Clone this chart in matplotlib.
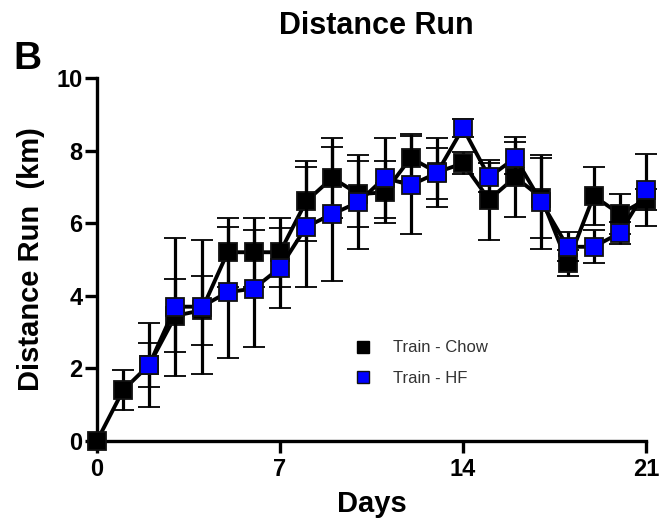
import numpy as np
import matplotlib
matplotlib.use("Agg")
import matplotlib.pyplot as plt
from matplotlib.lines import Line2D

plt.rcParams['font.family'] = ['Liberation Sans', 'DejaVu Sans']

# daily running distance (km), mean and error
days = np.arange(0, 22)
chow = [0, 1.4, 2.1, 3.45, 3.6, 5.2, 5.2, 5.2, 6.6, 7.25, 6.8, 6.85,
        7.8, 7.4, 7.65, 6.65, 7.27, 6.7, 4.9, 6.75, 6.25, 6.65]
chow_err = [0, 0.55, 0.6, 1.0, 0.95, 0.95, 0.95, 0.95, 1.1, 1.1, 0.9, 0.85,
            0.65, 0.95, 0.3, 1.1, 1.1, 1.1, 0.35, 0.8, 0.55, 0.3]
hf = [np.nan, np.nan, 2.1, 3.7, 3.7, 4.1, 4.2, 4.77, 5.9, 6.25, 6.58, 7.25,
      7.05, 7.38, 8.62, 7.27, 7.8, 6.58, 5.35, 5.35, 5.73, 6.91]
hf_err = [np.nan, np.nan, 1.15, 1.9, 1.85, 1.8, 1.6, 1.1, 1.65, 1.85, 1.3, 1.1,
          1.35, 0.7, 0.25, 0.4, 0.45, 1.3, 0.4, 0.45, 0.3, 1.0]

xticks = [0, 7, 14, 21]
yticks = [0, 2, 4, 6, 8, 10]

fig = plt.figure(figsize=(6.61, 5.27), dpi=100)
ax = fig.add_axes([0.1467, 0.1632, 0.8306, 0.6888])

def draw(y, err, face, z):
    cont = ax.errorbar(days, y, yerr=err, fmt='s-', color='black', lw=2.8,
                       ms=12.5, mfc=face, mec='#111111', mew=1.3,
                       elinewidth=2.3, capsize=8, capthick=2.3, zorder=z)
    line, caps, bars = cont.lines
    line.set_clip_on(False)
    for a in list(caps) + list(bars):
        a.set_clip_on(False)

draw(chow, chow_err, 'black', 3)
draw(hf, hf_err, '#0000ff', 4)

ax.set_xlim(0, 21)
ax.set_ylim(0, 10)
ax.set_xticks(xticks)
ax.set_yticks(yticks)
ax.spines['top'].set_visible(False)
ax.spines['right'].set_visible(False)
for s in ('left', 'bottom'):
    ax.spines[s].set_linewidth(2.4)
ax.tick_params(axis='both', length=8.5, width=2.4, labelsize=17)
ax.tick_params(axis='x', pad=4)
ax.tick_params(axis='y', pad=2)
for lab in ax.get_xticklabels() + ax.get_yticklabels():
    lab.set_fontweight('bold')

ax.set_xlabel('Days', fontsize=21, fontweight='bold', labelpad=6)
ax.set_ylabel('Distance Run  (km)', fontsize=21, fontweight='bold', labelpad=8)

fig.text(0.569, 0.951, 'Distance Run', ha='center', va='center',
         fontsize=22, fontweight='bold')
fig.text(0.042, 0.888, 'B', ha='center', va='center',
         fontsize=28, fontweight='bold')

handles = [Line2D([], [], ls='none', marker='s', ms=9, mfc='black', mec='black'),
           Line2D([], [], ls='none', marker='s', ms=9, mfc='#0000ff', mec='#111111')]
ax.legend(handles, ['Train - Chow', 'Train - HF'], frameon=False,
          loc='upper left', bbox_to_anchor=(0.455, 0.3), fontsize=12,
          handlelength=1.0, handletextpad=1.3, labelspacing=0.95,
          borderpad=0, labelcolor='#333333')

fig.savefig('out.png', dpi=100, facecolor='white')
